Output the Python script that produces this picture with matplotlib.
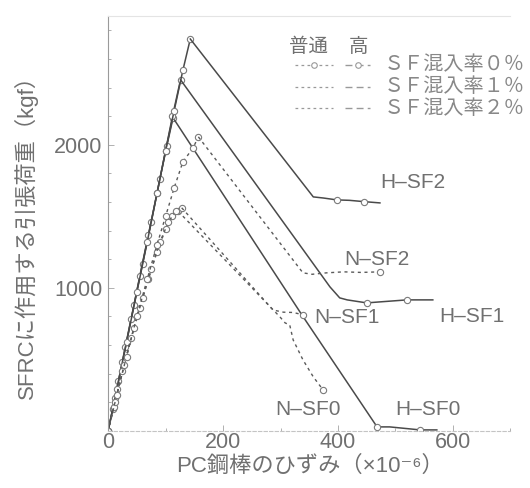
import matplotlib.pyplot as plt
from matplotlib.lines import Line2D
from matplotlib.ticker import MultipleLocator, FixedLocator

plt.rcParams['font.family'] = ['Liberation Sans', 'Noto Sans CJK JP', 'DejaVu Sans']

# 高強度 (H) : 上昇域と下降域
hsf0_rise_x = [0, 8, 18, 30, 45, 60, 75, 90, 102, 113]
hsf0_rise_y = [0, 150, 350, 590, 880, 1170, 1460, 1760, 1990, 2189]
hsf0_fall_x = [113, 339, 468, 490, 543, 572]
hsf0_fall_y = [2189, 800, 28, 28, 7, 7]

hsf1_rise_x = [0, 12, 25, 40, 55, 70, 85, 100, 112, 126]
hsf1_rise_y = [0, 230, 480, 780, 1080, 1370, 1660, 1960, 2200, 2455]
hsf1_fall_x = [126, 386, 403, 416, 450, 473, 520, 565]
hsf1_fall_y = [2455, 1007, 930, 916, 895, 902, 916, 916]

hsf2_rise_x = [0, 15, 32, 50, 68, 85, 100, 115, 130, 143]
hsf2_rise_y = [0, 290, 620, 970, 1320, 1660, 1960, 2240, 2520, 2740]
hsf2_fall_x = [143, 357, 375, 398, 420, 445, 473]
hsf2_fall_y = [2740, 1636, 1628, 1615, 1612, 1603, 1594]

# 普通強度 (N)
nsf0_rise_x = [0, 10, 25, 40, 55, 70, 85, 100, 112, 122]
nsf0_rise_y = [0, 170, 420, 650, 860, 1060, 1250, 1410, 1500, 1535]
nsf0_fall_x = [122, 299, 308, 316, 322, 339, 357, 374]
nsf0_fall_y = [1535, 797, 755, 741, 636, 497, 378, 287]

nsf1_rise_x = [0, 12, 28, 45, 60, 75, 90, 105, 118, 128]
nsf1_rise_y = [0, 200, 460, 720, 930, 1130, 1320, 1460, 1540, 1560]
nsf1_fall_x = [128, 287, 305, 322, 339]
nsf1_fall_y = [1560, 845, 830, 828, 812]

nsf2_rise_x = [0, 15, 32, 50, 68, 85, 100, 115, 130, 148, 157]
nsf2_rise_y = [0, 250, 520, 800, 1060, 1300, 1500, 1700, 1880, 1980, 2056]
nsf2_fall_x = [157, 339, 355, 380, 410, 440, 473]
nsf2_fall_y = [2056, 1105, 1095, 1105, 1112, 1108, 1112]

curve_labels = ['H–SF2', 'N–SF2', 'N–SF1', 'H–SF1', 'N–SF0', 'H–SF0']
label_x = [530, 468, 416, 633, 348, 557]
label_y = [1735, 1196, 790, 800, 147, 147]

legend_rows = ['ＳＦ混入率０％', 'ＳＦ混入率１％', 'ＳＦ混入率２％']

ink = '#4a4a4a'
soft = '#707070'
h_style = dict(color=ink, lw=1.1, ls='-')
n_style = dict(color='#5a5a5a', lw=1.0, ls=(0, (2.2, 2.6)))
mk = dict(marker='o', ms=4.5, mfc='white', mec='#7a7a7a', mew=0.8)

fig = plt.figure(figsize=(5.3, 4.88), dpi=100)
ax = fig.add_axes([0.204, 0.117, 0.759, 0.850])

for rx, ry, fx, fy in [(hsf0_rise_x, hsf0_rise_y, hsf0_fall_x, hsf0_fall_y),
                       (hsf1_rise_x, hsf1_rise_y, hsf1_fall_x, hsf1_fall_y),
                       (hsf2_rise_x, hsf2_rise_y, hsf2_fall_x, hsf2_fall_y)]:
    ax.plot(rx, ry, **h_style, **mk)
    ax.plot(fx, fy, **h_style)
    ax.plot(fx[-4:-1:2], fy[-4:-1:2], ls='none', **mk)

for rx, ry, fx, fy in [(nsf0_rise_x, nsf0_rise_y, nsf0_fall_x, nsf0_fall_y),
                       (nsf1_rise_x, nsf1_rise_y, nsf1_fall_x, nsf1_fall_y),
                       (nsf2_rise_x, nsf2_rise_y, nsf2_fall_x, nsf2_fall_y)]:
    ax.plot(rx, ry, **n_style, **mk)
    ax.plot(fx, fy, **n_style)
    ax.plot(fx[-1:], fy[-1:], ls='none', **mk)

for t, x, y in zip(curve_labels, label_x, label_y):
    ax.text(x, y, t, fontsize=15, color=soft, ha='center', va='center')

ax.set_xlim(0, 700)
ax.set_ylim(0, 2900)
ax.xaxis.set_major_locator(FixedLocator([0, 200, 400, 600]))
ax.xaxis.set_minor_locator(MultipleLocator(100))
ax.yaxis.set_major_locator(FixedLocator([1000, 2000]))
ax.yaxis.set_minor_locator(MultipleLocator(200))
ax.tick_params(which='both', direction='in', color='#b0b0b0', width=0.7)
ax.tick_params(which='major', length=4, labelsize=15.5, labelcolor=soft)
ax.tick_params(axis='x', pad=0.5)
ax.tick_params(axis='y', pad=4)
ax.tick_params(which='minor', length=2.5)

ax.spines['left'].set_color('#9a9a9a')
ax.spines['bottom'].set_color('#c4c4c4')
ax.spines['bottom'].set_linestyle((0, (3, 2)))
ax.spines['top'].set_color('#e4e4e4')
ax.spines['right'].set_visible(False)

ax.set_xlabel('PC鋼棒のひずみ（×10⁻⁶）', fontsize=16, color=soft, va='center')
ax.xaxis.set_label_coords(0.502, -0.086)
ax.set_ylabel('SFRCに作用する引張荷重（kgf）', fontsize=16, color=soft,
              va='center', ha='center')
ax.yaxis.set_label_coords(-0.204, 0.48)

# 凡例（普通・高の線種と混入率）
W, H = 530, 488
fig.text(308 / W, 1 - 47 / H, '普通', fontsize=14, color=soft, ha='center', va='center')
fig.text(358 / W, 1 - 47 / H, '高', fontsize=14, color=soft, ha='center', va='center')
for i, row in enumerate(legend_rows):
    yy = 1 - (65 + 21.5 * i) / H
    fig.add_artist(Line2D([295 / W, 333 / W], [yy, yy], transform=fig.transFigure,
                          color='#999999', lw=0.9, ls=(0, (2.2, 2.6))))
    fig.add_artist(Line2D([345 / W, 370 / W], [yy, yy], transform=fig.transFigure,
                          color='#999999', lw=1.0, ls=(0, (5, 3))))
    if i == 0:
        fig.add_artist(Line2D([314 / W], [yy], transform=fig.transFigure, ls='none',
                              marker='o', ms=4, mfc='white', mec='#999999', mew=0.8))
        fig.add_artist(Line2D([358 / W], [yy], transform=fig.transFigure, ls='none',
                              marker='o', ms=4, mfc='white', mec='#999999', mew=0.8))
    fig.text(384 / W, yy, row, fontsize=14.5, color='#888888', ha='left', va='center')

fig.savefig('out.png', dpi=100)
